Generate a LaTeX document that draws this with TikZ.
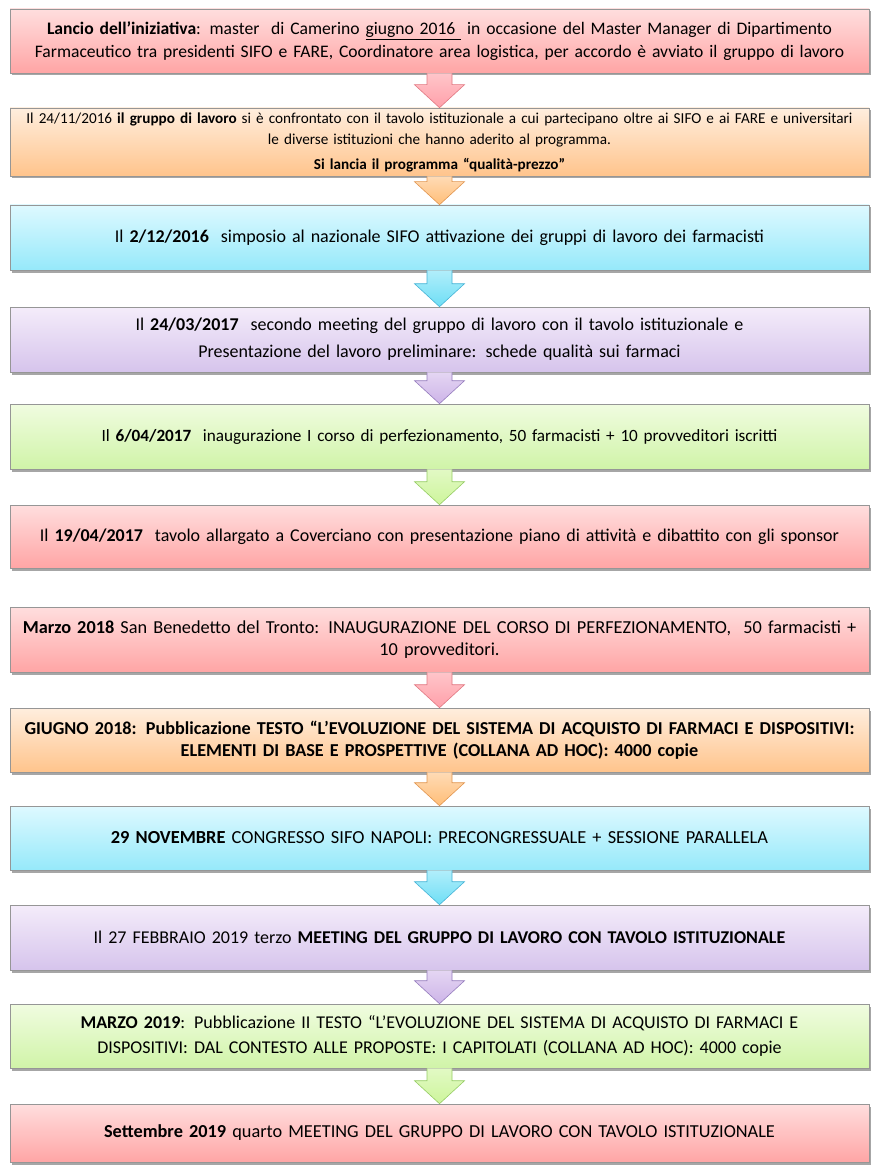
\documentclass[tikz,border=0pt]{standalone}
\usepackage{fontspec}
\setmainfont{Carlito}[WordSpace=0.85]
\usetikzlibrary{calc,shadows}
\definecolor{pinkT}{RGB}{255,222,222}
\definecolor{pinkB}{RGB}{255,165,165}
\definecolor{pinkA}{RGB}{255,160,170}
\definecolor{pinkD}{RGB}{225,120,130}
\definecolor{oranT}{RGB}{255,238,222}
\definecolor{oranB}{RGB}{255,196,140}
\definecolor{oranA}{RGB}{255,190,120}
\definecolor{oranD}{RGB}{225,150,80}
\definecolor{cyanT}{RGB}{222,249,255}
\definecolor{cyanB}{RGB}{150,233,250}
\definecolor{cyanA}{RGB}{110,222,245}
\definecolor{cyanD}{RGB}{70,180,215}
\definecolor{purpT}{RGB}{244,236,250}
\definecolor{purpB}{RGB}{214,196,236}
\definecolor{purpA}{RGB}{205,180,232}
\definecolor{purpD}{RGB}{150,125,190}
\definecolor{grenT}{RGB}{240,252,224}
\definecolor{grenB}{RGB}{208,244,168}
\definecolor{grenA}{RGB}{205,245,155}
\definecolor{grenD}{RGB}{150,205,100}
\definecolor{edgeC}{RGB}{150,150,150}
\tikzset{
  box/.style={draw=edgeC, line width=0.6pt, minimum width=859pt, text width=855pt,
    align=center, inner sep=0pt, anchor=center,
    drop shadow={shadow xshift=2pt, shadow yshift=-2.5pt, opacity=0.35, fill=black},
    font=\fontsize{18}{22.5}\selectfont},
  pinkbox/.style={box, top color=pinkT, bottom color=pinkB},
  oranbox/.style={box, top color=oranT, bottom color=oranB},
  cyanbox/.style={box, top color=cyanT, bottom color=cyanB},
  purpbox/.style={box, top color=purpT, bottom color=purpB},
  grenbox/.style={box, top color=grenT, bottom color=grenB},
  arr/.style={line width=0.6pt, line join=miter},
  pinkarr/.style={arr, draw=pinkD, top color=pinkT!60!pinkA, bottom color=pinkA},
  oranarr/.style={arr, draw=oranD, top color=oranT!60!oranA, bottom color=oranA},
  cyanarr/.style={arr, draw=cyanD, top color=cyanT!60!cyanA, bottom color=cyanA},
  purparr/.style={arr, draw=purpD, top color=purpT!60!purpA, bottom color=purpA},
  grenarr/.style={arr, draw=grenD, top color=grenT!60!grenA, bottom color=grenA},
}
\newcommand{\flowarr}[3]{%
  \draw[#3] ($(#1.south)+(-12.5,0)$) -- ($(#2.north)+(-12.5,23)$) -- ($(#2.north)+(-25,23)$)
    -- (#2.north) -- ($(#2.north)+(25,23)$) -- ($(#2.north)+(12.5,23)$) -- ($(#1.south)+(12.5,0)$);}
\begin{document}
\begin{tikzpicture}[x=1pt,y=1pt]
\useasboundingbox[fill=white] (0,0) rectangle (874,-1166);
\node[pinkbox, minimum height=64pt, font=\fontsize{17.6}{22.5}\selectfont] (b1) at (439.5,-41) {\textbf{Lancio dell’iniziativa}: master\ \ di Camerino \underline{giugno 2016\ } in occasione del Master Manager di Dipartimento\\ Farmaceutico tra presidenti SIFO e FARE, Coordinatore area logistica, per accordo è avviato il gruppo di lavoro};
\node[oranbox, minimum height=68pt, font=\fontsize{15.2}{21}\selectfont] (b2) at (439.5,-142) {Il 24/11/2016 \textbf{il gruppo di lavoro} si è confrontato con il tavolo istituzionale a cui partecipano oltre ai SIFO e ai FARE e universitari\\ le diverse istituzioni che hanno aderito al programma.\\[4pt] \textbf{Si lancia il programma “qualità-prezzo”}};
\node[cyanbox, minimum height=65pt] (b3) at (439.5,-237.5) {Il \textbf{2/12/2016}\ \ simposio al nazionale SIFO attivazione dei gruppi di lavoro dei farmacisti};
\node[purpbox, minimum height=65pt] (b4) at (439.5,-339.5) {Il \textbf{24/03/2017}\ \ secondo meeting del gruppo di lavoro con il tavolo istituzionale e\\[4.5pt] Presentazione del lavoro preliminare: schede qualità sui farmaci};
\node[grenbox, minimum height=65pt, font=\fontsize{17.2}{22.5}\selectfont] (b5) at (439.5,-436.5) {Il \textbf{6/04/2017}\ \ inaugurazione I corso di perfezionamento, 50 farmacisti + 10 provveditori iscritti};
\node[pinkbox, minimum height=63pt] (b6) at (439.5,-536.5) {Il \textbf{19/04/2017}\ \ tavolo allargato a Coverciano con presentazione piano di attività e dibattito con gli sponsor};
\node[pinkbox, minimum height=65pt, font=\fontsize{18.3}{22.5}\selectfont] (b7) at (439.5,-639.5) {\textbf{Marzo 2018} San Benedetto del Tronto: INAUGURAZIONE DEL CORSO DI PERFEZIONAMENTO,\ \ 50 farmacisti +\\ 10 provveditori.};
\node[oranbox, minimum height=64pt, font=\fontsize{18.2}{22.5}\selectfont] (b8) at (439.5,-740) {\textbf{GIUGNO 2018: Pubblicazione TESTO “L’EVOLUZIONE DEL SISTEMA DI ACQUISTO DI FARMACI E DISPOSITIVI:\\ ELEMENTI DI BASE E PROSPETTIVE (COLLANA AD HOC): 4000 copie}};
\node[cyanbox, minimum height=64pt, font=\fontsize{18.4}{22.5}\selectfont] (b9) at (439.5,-838) {\textbf{29 NOVEMBRE} CONGRESSO SIFO NAPOLI: PRECONGRESSUALE + SESSIONE PARALLELA};
\node[purpbox, minimum height=65pt] (b10) at (439.5,-937.5) {Il 27 FEBBRAIO 2019 terzo \textbf{MEETING DEL GRUPPO DI LAVORO CON TAVOLO ISTITUZIONALE}};
\node[grenbox, minimum height=64pt] (b11) at (439.5,-1036) {\textbf{MARZO 2019}: Pubblicazione II TESTO “L’EVOLUZIONE DEL SISTEMA DI ACQUISTO DI FARMACI E\\[2.5pt] DISPOSITIVI: DAL CONTESTO ALLE PROPOSTE: I CAPITOLATI (COLLANA AD HOC): 4000 copie};
\node[pinkbox, minimum height=58pt, font=\fontsize{18.3}{22.5}\selectfont] (b12) at (439.5,-1133) {\textbf{Settembre 2019} quarto MEETING DEL GRUPPO DI LAVORO CON TAVOLO ISTITUZIONALE};
\flowarr{b1}{b2}{pinkarr}
\flowarr{b2}{b3}{oranarr}
\flowarr{b3}{b4}{cyanarr}
\flowarr{b4}{b5}{purparr}
\flowarr{b5}{b6}{grenarr}
\flowarr{b7}{b8}{pinkarr}
\flowarr{b8}{b9}{oranarr}
\flowarr{b9}{b10}{cyanarr}
\flowarr{b10}{b11}{purparr}
\flowarr{b11}{b12}{grenarr}
\end{tikzpicture}
\end{document}
